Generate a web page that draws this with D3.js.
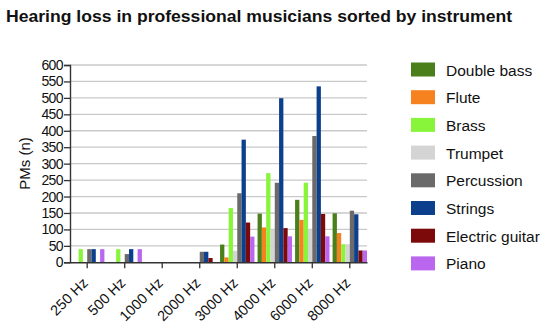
<!DOCTYPE html>
<html><head><meta charset="utf-8">
<script src="https://cdn.jsdelivr.net/npm/d3@7"></script>
<style>
body{margin:0;background:#fff;}
text{font-family:"Liberation Sans",Arial,sans-serif;fill:#111;}
</style></head>
<body><svg id="c" width="550" height="330"></svg>
<script>
const categories = ["250 Hz","500 Hz","1000 Hz","2000 Hz","3000 Hz","4000 Hz","6000 Hz","8000 Hz"];
const seriesNames = ["Double bass","Flute","Brass","Trumpet","Percussion","Strings","Electric guitar","Piano"];
const seriesColors = ["#4b7f1c","#f5821f","#88f53a","#d4d4d4","#6a6a6a","#0c3f8c","#7d0a0a","#bb66ee"];
const doubleBass     = [0, 0, 0, 0, 54, 148, 190, 149];
const flute          = [0, 0, 0, 0, 15, 106, 129, 89];
const brass          = [40, 40, 0, 0, 165, 271, 242, 55];
const trumpet        = [0, 0, 0, 0, 35, 100, 100, 55];
const percussion     = [40, 25, 0, 32, 210, 242, 384, 157];
const strings        = [40, 40, 0, 32, 373, 499, 535, 146];
const electricGuitar = [0, 0, 0, 13, 121, 104, 147, 36];
const piano          = [40, 40, 0, 0, 78, 79, 79, 36];
const yTicks = [0,50,100,150,200,250,300,350,400,450,500,550,600];
const seriesValues = [doubleBass, flute, brass, trumpet, percussion, strings, electricGuitar, piano];

const svg = d3.select("#c");
const mLeft = 70, mRight = 367, mTop = 65, mBottom = 262.3;

const x = d3.scaleBand().domain(categories).range([mLeft, mRight]).paddingInner(0.083).paddingOuter(0);
const xs = d3.scaleBand().domain(seriesNames).range([0, x.bandwidth()]).padding(0);
const y = d3.scaleLinear().domain([0, 600]).range([mBottom, mTop]);

// gridlines
svg.append("g").selectAll("line").data(yTicks.filter(d=>d>0)).join("line")
  .attr("x1", mLeft).attr("x2", mRight)
  .attr("y1", d=>y(d)).attr("y2", d=>y(d))
  .attr("stroke", "#c9c9c9").attr("stroke-width", 1.3);

// bars
const groups = svg.append("g").selectAll("g").data(categories).join("g")
  .attr("transform", d=>`translate(${x(d)},0)`);
groups.selectAll("rect").data((c,i)=>seriesNames.map((s,j)=>({s, v: seriesValues[j][i], color: seriesColors[j]})))
  .join("rect")
  .attr("x", d=>xs(d.s)).attr("width", xs.bandwidth())
  .attr("y", d=>y(d.v)).attr("height", d=>mBottom - y(d.v))
  .attr("fill", d=>d.color);

// y axis
const yAxis = svg.append("g").attr("transform", `translate(${mLeft},0)`)
  .call(d3.axisLeft(y).tickValues(yTicks).tickSize(6).tickPadding(1));
yAxis.select(".domain").attr("stroke", "#333").attr("stroke-width", 1.4);
yAxis.selectAll(".tick line").attr("stroke", "#333").attr("stroke-width", 1.3);
yAxis.selectAll(".tick text").attr("font-size", 14).attr("fill", "#111")
  .attr("font-family", "Liberation Sans, Arial, sans-serif").attr("letter-spacing", -0.6);

// x axis
const xAxis = svg.append("g").attr("transform", `translate(0,${mBottom})`)
  .call(d3.axisBottom(x).tickSize(6).tickSizeOuter(0));
xAxis.select(".domain").attr("stroke", "#333").attr("stroke-width", 1.4);
xAxis.selectAll(".tick line").attr("stroke", "#333").attr("stroke-width", 1.3);
xAxis.selectAll(".tick text").attr("font-size", 14.5).attr("fill", "#111")
  .attr("font-family", "Liberation Sans, Arial, sans-serif")
  .attr("text-anchor", "end").attr("dy", "0.35em")
  .attr("transform", "translate(-2,18) rotate(-45)").attr("y", 0).attr("x", 0);

// y title
svg.append("text").attr("transform", "translate(30,163.5) rotate(-90)")
  .attr("text-anchor", "middle").attr("font-size", 15).text("PMs (n)");

// title
svg.append("text").attr("x", 6).attr("y", 22).attr("font-size", 16.5)
  .attr("font-weight", "bold").attr("textLength", 506).attr("lengthAdjust", "spacingAndGlyphs")
  .text("Hearing loss in professional musicians sorted by instrument");

// legend
const lg = svg.append("g").selectAll("g").data(seriesNames).join("g")
  .attr("transform", (d,i)=>`translate(411,${62.5 + i*27.7})`);
lg.append("rect").attr("width", 24).attr("height", 14).attr("fill", (d,i)=>seriesColors[i]);
lg.append("text").attr("x", 35).attr("y", 13).attr("font-size", 15.5).text(d=>d);
</script></body></html>
